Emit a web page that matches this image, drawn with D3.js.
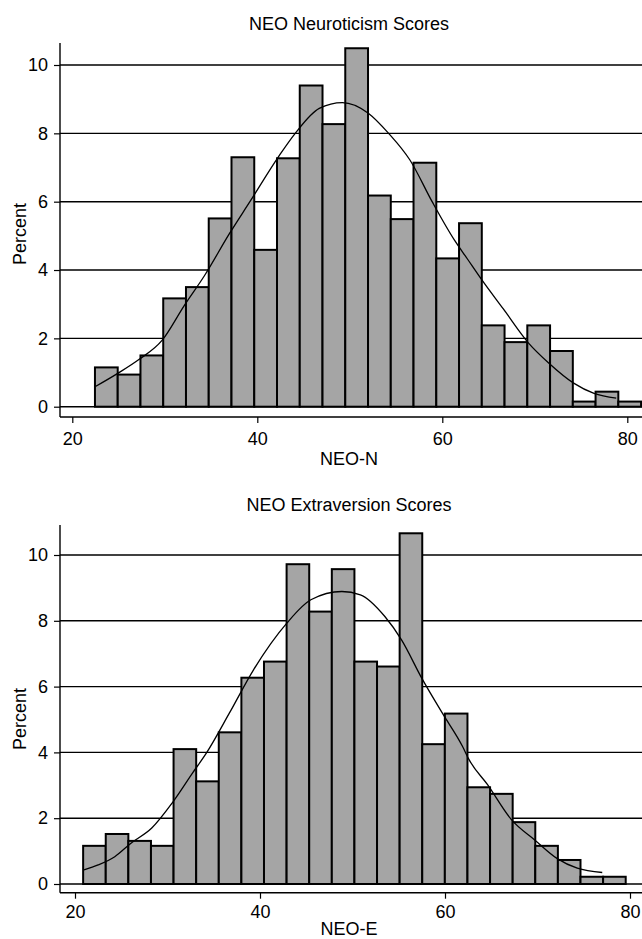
<!DOCTYPE html>
<html>
<head>
<meta charset="utf-8">
<script src="https://cdn.jsdelivr.net/npm/d3@7"></script>
<style>
  body { margin: 0; background: #fff; }
  svg { display: block; font-family: "Liberation Sans", Arial, sans-serif; }
</style>
</head>
<body>
<div id="chart"></div>
<script>
// histogram bins (percent per bin)
const yTicks = [0, 2, 4, 6, 8, 10];
const xTicks = [20, 40, 60, 80];

const neoNBinStart = 22.45;
const neoNBinWidth = 2.46;
const neoNPercent = [1.15, 0.94, 1.50, 3.17, 3.50, 5.51, 7.30, 4.59, 7.27, 9.4, 8.27, 10.49,
  6.18, 5.49, 7.14, 4.34, 5.37, 2.38, 1.89, 2.38, 1.63, 0.15, 0.44, 0.15];
const neoNCurveX = [22.5, 25.0, 27.2, 29.7, 32.1, 34.3, 37.0, 39.2, 42.3, 44.1, 46.7, 49.2, 52.0,
  54.2, 56.5, 58.9, 61.3, 62.7, 64.2, 66.6, 69.3, 71.5, 74.2, 76.4, 78.8];
const neoNCurveY = [0.59, 0.99, 1.38, 1.94, 2.96, 3.84, 5.07, 6.0, 7.32, 8.0, 8.73, 8.9, 8.59,
  8.0, 7.22, 6.0, 4.88, 4.33, 3.74, 2.86, 1.87, 1.28, 0.69, 0.39, 0.25];

const neoEBinStart = 20.88;
const neoEBinWidth = 2.444;
const neoEPercent = [1.16, 1.52, 1.31, 1.16, 4.10, 3.12, 4.61, 6.27, 6.76, 9.72, 8.28, 9.57,
  6.76, 6.61, 10.66, 4.25, 5.18, 2.94, 2.74, 1.88, 1.16, 0.73, 0.22, 0.22];
const neoECurveX = [20.97, 22.5, 24.3, 26.05, 28.3, 30.5, 32.7, 34.25, 36.7, 39.3, 42.9, 45.5,
  48.85, 50.85, 53.5, 55.3, 57.5, 59.7, 61.9, 62.6, 64.6, 67.2, 69.7, 72.1, 74.3, 77.0];
const neoECurveY = [0.43, 0.58, 0.83, 1.24, 1.70, 2.46, 3.37, 4.0, 5.20, 6.51, 7.93, 8.64,
  8.89, 8.79, 8.13, 7.42, 6.25, 5.20, 4.18, 3.78, 3.02, 1.95, 1.34, 0.78, 0.48, 0.35];

const width = 642;
const height = 939;
const fontSize = 18;

const svg = d3.select("#chart")
  .append("svg")
  .attr("width", width)
  .attr("height", height);

function drawPanel(opt) {
  const g = svg.append("g");

  const x = d3.scaleLinear().domain([20, 80]).range([opt.x20, opt.x80]);
  const y = d3.scaleLinear().domain([0, 10]).range([opt.yZero, opt.y10]);

  const axisLeft = 60;

  // gridlines
  g.selectAll(".grid")
    .data(yTicks)
    .enter()
    .append("line")
    .attr("x1", axisLeft)
    .attr("x2", width)
    .attr("y1", d => y(d))
    .attr("y2", d => y(d))
    .attr("stroke", "#000")
    .attr("stroke-width", 1.4);

  // bars
  const bins = opt.percent.map((p, i) => ({
    x0: opt.binStart + i * opt.binWidth,
    x1: opt.binStart + (i + 1) * opt.binWidth,
    p
  }));
  g.selectAll(".bar")
    .data(bins)
    .enter()
    .append("rect")
    .attr("x", d => x(d.x0))
    .attr("y", d => y(d.p))
    .attr("width", d => x(d.x1) - x(d.x0))
    .attr("height", d => y(0) - y(d.p))
    .attr("fill", "#a5a5a5")
    .attr("stroke", "#000")
    .attr("stroke-width", 2);

  // normal curve
  const pts = opt.curveX.map((v, i) => [v, opt.curveY[i]]);
  const line = d3.line()
    .x(d => x(d[0]))
    .y(d => y(d[1]))
    .curve(d3.curveMonotoneX);
  g.append("path")
    .datum(pts)
    .attr("d", line)
    .attr("fill", "none")
    .attr("stroke", "#000")
    .attr("stroke-width", 1.3);

  // y axis
  const yAxis = d3.axisLeft(y).tickValues(yTicks).tickSize(6).tickPadding(5).tickFormat(d3.format("d"));
  const ya = g.append("g")
    .attr("transform", `translate(${axisLeft},0)`)
    .call(yAxis);
  ya.select(".domain").remove();
  ya.append("line")
    .attr("x1", 0).attr("x2", 0)
    .attr("y1", opt.axisTop).attr("y2", opt.xAxisY)
    .attr("stroke", "#000").attr("stroke-width", 1.4);

  // x axis
  const xAxis = d3.axisBottom(x).tickValues(xTicks).tickSize(6).tickPadding(opt.xPad).tickFormat(d3.format("d"));
  const xa = g.append("g")
    .attr("transform", `translate(0,${opt.xAxisY})`)
    .call(xAxis);
  xa.select(".domain").remove();
  xa.append("line")
    .attr("x1", axisLeft).attr("x2", width)
    .attr("y1", 0).attr("y2", 0)
    .attr("stroke", "#000").attr("stroke-width", 1.4);

  [ya, xa].forEach(a => {
    a.selectAll("text").attr("font-size", fontSize).attr("font-family", null).attr("fill", "#000");
    a.selectAll(".tick line").attr("stroke", "#000").attr("stroke-width", 1.2);
  });
  ya.selectAll("text").attr("x", -12);

  // titles
  g.append("text")
    .attr("x", 349)
    .attr("y", opt.titleY)
    .attr("text-anchor", "middle")
    .attr("font-size", fontSize)
    .text(opt.title);

  g.append("text")
    .attr("x", 349)
    .attr("y", opt.xLabelY)
    .attr("text-anchor", "middle")
    .attr("font-size", fontSize)
    .text(opt.xLabel);

  g.append("text")
    .attr("transform", `translate(26,${opt.yLabelMid}) rotate(-90)`)
    .attr("text-anchor", "middle")
    .attr("font-size", fontSize)
    .text("Percent");
}

drawPanel({
  title: "NEO Neuroticism Scores",
  xLabel: "NEO-N",
  percent: neoNPercent,
  binStart: neoNBinStart,
  binWidth: neoNBinWidth,
  curveX: neoNCurveX,
  curveY: neoNCurveY,
  x20: 72.3, x80: 627.3,
  yZero: 406.7, y10: 65,
  axisTop: 43, xAxisY: 417, xPad: 9,
  titleY: 30, xLabelY: 465, yLabelMid: 234
});

drawPanel({
  title: "NEO Extraversion Scores",
  xLabel: "NEO-E",
  percent: neoEPercent,
  binStart: neoEBinStart,
  binWidth: neoEBinWidth,
  curveX: neoECurveX,
  curveY: neoECurveY,
  x20: 75, x80: 630,
  yZero: 884, y10: 555,
  axisTop: 525, xAxisY: 892.7, xPad: 7,
  titleY: 511, xLabelY: 935, yLabelMid: 719
});
</script>
</body>
</html>
